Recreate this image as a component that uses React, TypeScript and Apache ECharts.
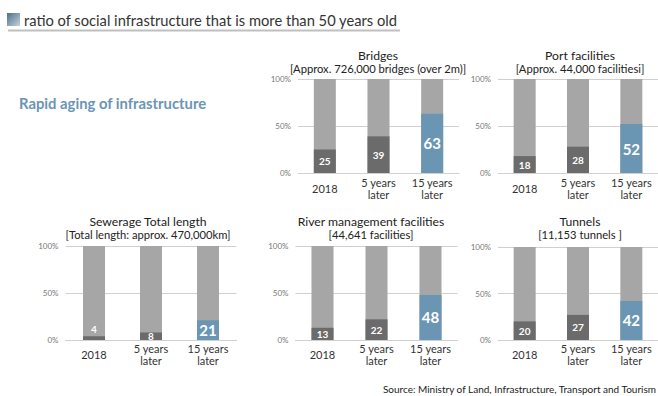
import React, { useEffect, useRef } from "react";
import * as echarts from "echarts";

const categories = ["2018", "5 years\nlater", "15 years\nlater"];
const chartNames = ["Bridges", "Port facilities", "Sewerage Total length", "River management facilities", "Tunnels"];
const chartSubs = [
  "[Approx. 726,000 bridges (over 2m)]",
  "[Approx. 44,000 facilitiesi]",
  "[Total length: approx. 470,000km]",
  "[44,641 facilities]",
  "[11,153 tunnels ]",
];
const bridges = [25, 39, 63];
const ports = [18, 28, 52];
const sewerage = [4, 8, 21];
const rivers = [13, 22, 48];
const tunnels = [20, 27, 42];
const yTicks = [0, 50, 100];

const FONT = "Lato, 'Noto Sans', sans-serif";
const DARK = "#6b6b6b";
const BLUE = "#6a96b4";
const LIGHT = "#a6a6a6";

// layout of the 5 panels: grid rect, title centre, title y
const panels = [
  { left: 298, top: 79, width: 161, height: 94, tx: 378, ty: 56, lm: 15 },
  { left: 498, top: 79, width: 162, height: 94, tx: 580, ty: 56, lm: 15 },
  { left: 65.5, top: 246, width: 171, height: 94, tx: 148, ty: 222, lm: 14 },
  { left: 295.5, top: 246, width: 162, height: 94, tx: 371, ty: 222, lm: 14 },
  { left: 498, top: 247, width: 162, height: 93, tx: 580, ty: 222, lm: 14 },
];

export default function App() {
  const ref = useRef<HTMLDivElement>(null);
  useEffect(() => {
    if (!ref.current) return;
    const chart = echarts.init(ref.current, null, { renderer: "svg" });
    const seriesData = [bridges, ports, sewerage, rivers, tunnels];
    const grids = panels.map((p) => ({ left: p.left, top: p.top, width: p.width, height: p.height }));
    const xAxis = panels.map((p, i) => ({
      type: "category",
      gridIndex: i,
      data: categories,
      axisTick: { show: false },
      axisLine: { show: true, lineStyle: { color: "#d0d0d0", width: 1 } },
      axisLabel: {
        fontFamily: FONT,
        fontSize: 11,
        color: "#333",
        lineHeight: 12,
        verticalAlign: "middle",
        margin: p.lm,
        interval: 0,
      },
    }));
    const yAxis = panels.map((p, i) => ({
      type: "value",
      gridIndex: i,
      min: 0,
      max: 100,
      interval: 50,
      axisLine: { show: false },
      axisTick: { show: false },
      splitLine: { lineStyle: { color: "#d0d0d0", width: 1 } },
      axisLabel: {
        fontFamily: FONT,
        fontSize: 8,
        color: "#777",
        margin: 7,
        formatter: (v: number) => (yTicks.includes(v) ? v + "%" : ""),
      },
    }));
    const series = seriesData.map((vals, i) => ({
      type: "bar",
      xAxisIndex: i,
      yAxisIndex: i,
      barWidth: 22,
      showBackground: true,
      backgroundStyle: { color: LIGHT },
      data: vals.map((v, j) => {
        const last = j === vals.length - 1;
        return {
          value: v,
          itemStyle: { color: last ? BLUE : DARK },
          label: {
            show: true,
            position: v < 6 ? "top" : "inside",
            distance: 2,
            color: "#fff",
            fontFamily: FONT,
            fontWeight: "bold",
            fontSize: last ? 15 : 10,
          },
        };
      }),
    }));
    const graphic: any[] = [
      {
        type: "rect",
        shape: { x: 7, y: 13, width: 13, height: 13 },
        style: {
          fill: new echarts.graphic.LinearGradient(0, 0, 1, 1, [
            { offset: 0, color: "#4f6f8c" },
            { offset: 1, color: "#c4d2de" },
          ]),
        },
      },
      {
        type: "text",
        x: 24,
        y: 20,
        style: {
          text: "ratio of social infrastructure that is more than 50 years old",
          fontFamily: FONT,
          fontSize: 14.7,
          fill: "#333",
          verticalAlign: "middle",
        },
      },
      {
        type: "line",
        shape: { x1: 8, y1: 30.5, x2: 400, y2: 30.5 },
        style: { stroke: "#bfbfbf", lineWidth: 2 },
      },
      {
        type: "text",
        x: 19,
        y: 103,
        style: {
          text: "Rapid aging of infrastructure",
          fontFamily: FONT,
          fontSize: 14.8,
          fontWeight: "bold",
          fill: "#6b95b3",
          verticalAlign: "middle",
        },
      },
      {
        type: "text",
        x: 656,
        y: 389,
        style: {
          text: "Source: Ministry of Land, Infrastructure, Transport and Tourism",
          fontFamily: FONT,
          fontSize: 10,
          fill: "#222",
          align: "right",
          verticalAlign: "middle",
        },
      },
    ];
    panels.forEach((p, i) => {
      graphic.push({
        type: "text",
        x: p.tx,
        y: p.ty - 0.5,
        style: {
          text: chartNames[i],
          fontFamily: FONT,
          fontSize: 12.2,
          fill: "#222",
          align: "center",
          verticalAlign: "middle",
        },
      });
      graphic.push({
        type: "text",
        x: p.tx,
        y: p.ty + 12.5,
        style: {
          text: chartSubs[i],
          fontFamily: FONT,
          fontSize: 11.2,
          fill: "#222",
          align: "center",
          verticalAlign: "middle",
        },
      });
    });
    chart.setOption({
      animation: false,
      grid: grids,
      xAxis,
      yAxis,
      series,
      graphic,
    });
    return () => chart.dispose();
  }, []);
  return (
    <div
      ref={ref}
      style={{ position: "absolute", left: 0, top: 0, width: 658, height: 396, background: "#fff" }}
    />
  );
}
